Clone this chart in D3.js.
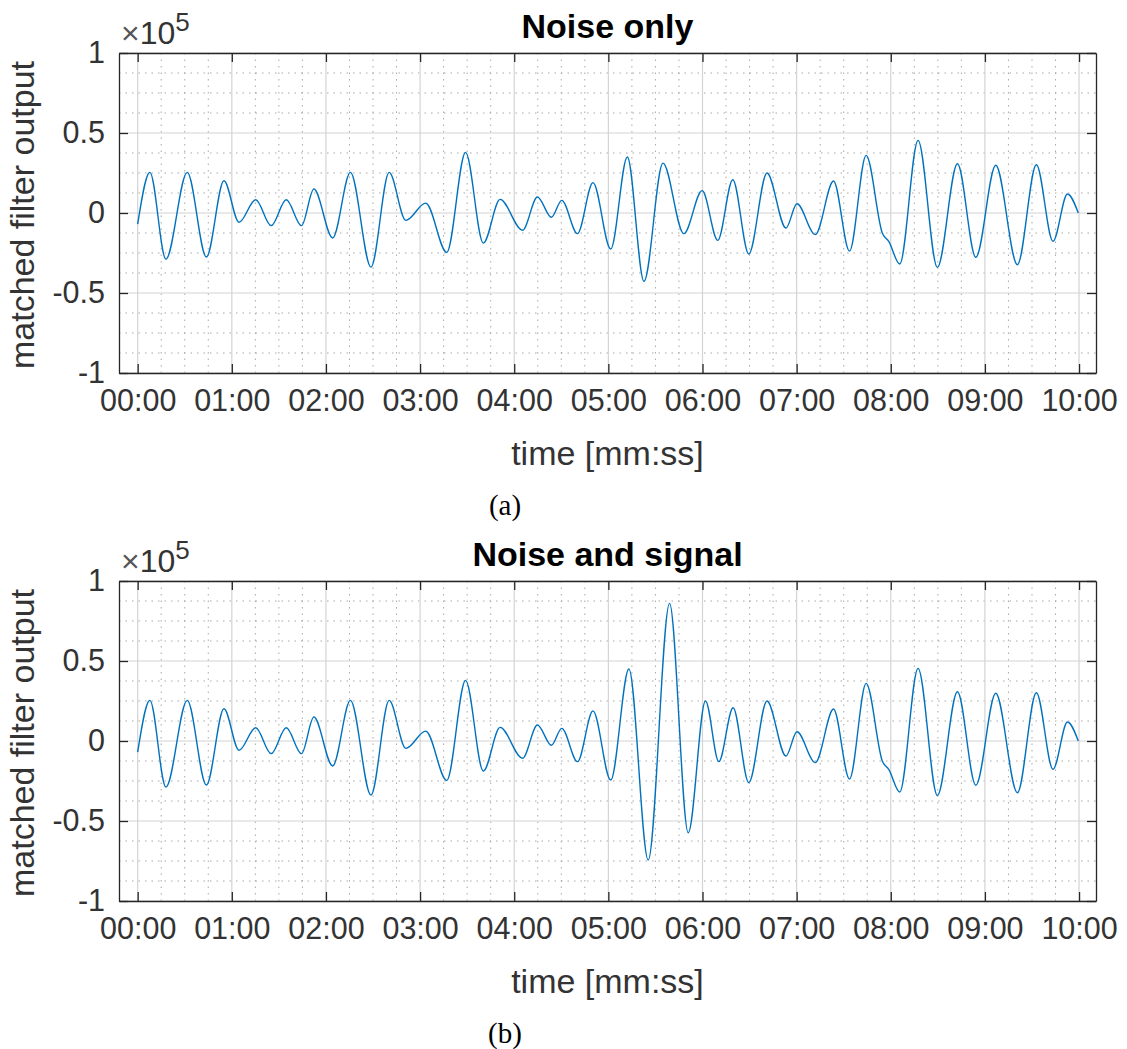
<!DOCTYPE html>
<html>
<head>
<meta charset="utf-8">
<script src="https://cdn.jsdelivr.net/npm/d3@7"></script>
<style>
  body { margin: 0; background: #fff; }
  .chart text { font-family: 'Liberation Sans', Arial, Helvetica, sans-serif; fill: #262626; }
  .caption { font-family: 'Liberation Serif', 'Times New Roman', serif !important; fill: #000 !important; }
</style>
</head>
<body>
<div class="chart"></div>
<script>
// extrema: time in seconds, value in units of 1e5
let noiseTime = [0, 7.8, 18.0, 31.6, 43.8, 55.0, 64.6, 75.2, 85.1, 94.7, 104.4, 112.3, 124.3, 135.6, 148.7,
  160.3, 170.9, 183.6, 197.0, 209.0, 220.3, 231.0, 245.3, 254.8, 263.7, 270.3, 280.3, 290.2, 301.5, 312.1,
  322.7, 334.8, 348.1, 359.8, 369.7, 379.3, 389.5, 401.1, 413.2, 420.2, 431.9, 443.5, 453.7, 464.3, 474.8,
  478.7, 485.7, 497.4, 509.7, 522.5, 534.2, 546.9, 560.7, 572.8, 583.4, 592.6, 599.5]
let noiseValue = [-0.07, 0.254, -0.288, 0.254, -0.275, 0.202, -0.058, 0.083, -0.079, 0.083, -0.079, 0.15, -0.156, 0.254, -0.338,
  0.254, -0.046, 0.062, -0.246, 0.379, -0.188, 0.085, -0.108, 0.10, -0.027, 0.079, -0.129, 0.19, -0.225, 0.35,
  -0.427, 0.312, -0.129, 0.14, -0.171, 0.208, -0.256, 0.25, -0.094, 0.058, -0.135, 0.20, -0.238, 0.36, -0.13,
  -0.177, -0.319, 0.454, -0.34, 0.308, -0.277, 0.298, -0.323, 0.302, -0.177, 0.119, 0.0]

let signalTime = [0, 7.8, 18.0, 31.6, 43.8, 55.0, 64.6, 75.2, 85.1, 94.7, 104.4, 112.3, 124.3, 135.6, 148.7,
  160.3, 170.9, 183.6, 197.0, 209.0, 220.3, 231.0, 245.3, 254.8, 263.7, 270.3, 280.3, 290.2, 301.5, 313.1,
  325.4, 339.0, 350.9, 361.9, 370.4, 379.5, 389.5, 401.1, 413.2, 420.2, 431.9, 443.5, 453.7, 464.3, 474.8,
  478.7, 485.7, 497.4, 509.7, 522.5, 534.2, 546.9, 560.7, 572.8, 583.4, 592.6, 599.5]
let signalValue = [-0.07, 0.254, -0.288, 0.254, -0.275, 0.202, -0.058, 0.083, -0.079, 0.083, -0.079, 0.15, -0.156, 0.254, -0.338,
  0.254, -0.046, 0.062, -0.246, 0.379, -0.188, 0.085, -0.108, 0.10, -0.027, 0.079, -0.129, 0.188, -0.244, 0.45,
  -0.744, 0.86, -0.573, 0.25, -0.129, 0.208, -0.26, 0.25, -0.094, 0.058, -0.135, 0.20, -0.238, 0.36, -0.13,
  -0.177, -0.319, 0.454, -0.34, 0.308, -0.277, 0.298, -0.323, 0.302, -0.177, 0.119, 0.0]

let xTicks = [0, 60, 120, 180, 240, 300, 360, 420, 480, 540, 600]
let xTickLabels = ['00:00', '01:00', '02:00', '03:00', '04:00', '05:00', '06:00', '07:00', '08:00', '09:00', '10:00']
let yTicks = [-1, -0.5, 0, 0.5, 1]
let yTickLabels = ['-1', '-0.5', '0', '0.5', '1']

const width = 1127
const height = 1049
const plot = { left: 119, right: 1096, top: 53, bottom: 373 }
const panelShift = 528
const tickLen = 9
const tickFont = 30.5

const svg = d3
  .select('.chart')
  .append('svg')
  .attr('width', width)
  .attr('height', height)

svg.append('rect').attr('width', width).attr('height', height).style('fill', '#fff')

let x = d3.scaleLinear().domain([-11.9, 610.8]).range([plot.left, plot.right])
let y = d3.scaleLinear().domain([-1, 1]).range([plot.bottom, plot.top])

function drawPanel(offset, title, times, values, caption) {
  let g = svg.append('g').attr('transform', `translate(0,${offset})`)

  // minor grid (dotted)
  let minorX = d3.range(15, 600, 15).filter((d) => d % 60 !== 0)
  let minorY = d3.range(-1, 1.001, 0.125).filter((d) => Math.abs(d * 2 - Math.round(d * 2)) > 1e-6)
  g.selectAll('.minor-x')
    .data(minorX)
    .enter()
    .append('line')
    .attr('x1', (d) => x(d))
    .attr('x2', (d) => x(d))
    .attr('y1', plot.top)
    .attr('y2', plot.bottom)
    .style('stroke', '#a8a8a8')
    .style('stroke-width', 1)
    .style('stroke-dasharray', '1.5,5')
  g.selectAll('.minor-y')
    .data(minorY)
    .enter()
    .append('line')
    .attr('x1', plot.left)
    .attr('x2', plot.right)
    .attr('y1', (d) => y(d))
    .attr('y2', (d) => y(d))
    .style('stroke', '#a8a8a8')
    .style('stroke-width', 1)
    .style('stroke-dasharray', '1.5,5')

  // major grid
  g.selectAll('.major-x')
    .data(xTicks)
    .enter()
    .append('line')
    .attr('x1', (d) => x(d))
    .attr('x2', (d) => x(d))
    .attr('y1', plot.top)
    .attr('y2', plot.bottom)
    .style('stroke', '#d4d4d4')
    .style('stroke-width', 1.2)
  g.selectAll('.major-y')
    .data(yTicks)
    .enter()
    .append('line')
    .attr('x1', plot.left)
    .attr('x2', plot.right)
    .attr('y1', (d) => y(d))
    .attr('y2', (d) => y(d))
    .style('stroke', '#d4d4d4')
    .style('stroke-width', 1.2)

  // the trace
  let line = d3
    .line()
    .x((d, i) => x(times[i]))
    .y((d) => y(d))
    .curve(d3.curveMonotoneX)
  g.append('path')
    .attr('d', line(values))
    .style('fill', 'none')
    .style('stroke', '#0072BD')
    .style('stroke-width', 1.4)

  // axes, ticks pointing inside
  let xFmt = (d) => xTickLabels[xTicks.indexOf(d)]
  let yFmt = (d) => yTickLabels[yTicks.indexOf(d)]

  let bottomAxis = g
    .append('g')
    .attr('transform', `translate(0,${plot.bottom})`)
    .call(d3.axisBottom(x).tickValues(xTicks).tickFormat(xFmt).tickSizeInner(-tickLen).tickSizeOuter(0).tickPadding(16))
  let topAxis = g
    .append('g')
    .attr('transform', `translate(0,${plot.top})`)
    .call(d3.axisTop(x).tickValues(xTicks).tickFormat('').tickSizeInner(-tickLen).tickSizeOuter(0))
  let leftAxis = g
    .append('g')
    .attr('transform', `translate(${plot.left},0)`)
    .call(d3.axisLeft(y).tickValues(yTicks).tickFormat(yFmt).tickSizeInner(-tickLen).tickSizeOuter(0).tickPadding(14))
  let rightAxis = g
    .append('g')
    .attr('transform', `translate(${plot.right},0)`)
    .call(d3.axisRight(y).tickValues(yTicks).tickFormat('').tickSizeInner(-tickLen).tickSizeOuter(0))

  ;[bottomAxis, topAxis, leftAxis, rightAxis].forEach((a) => {
    a.selectAll('path, line').style('stroke', '#262626').style('stroke-width', 1.3)
    a.selectAll('text').style('font-size', tickFont + 'px').style('fill', '#333')
  })
  bottomAxis.selectAll('text').attr('dy', '0.71em')

  // exponent label
  let expo = g
    .append('text')
    .attr('x', 121)
    .attr('y', 44)
    .style('font-size', '32px')
    .style('fill', '#333')
  expo.append('tspan').style('font-weight', '300').style('fill', '#555').text('×')
  expo.append('tspan').text('10')
  expo.append('tspan').attr('dy', -13).style('font-size', '26px').text('5')

  // title
  g.append('text')
    .attr('x', (plot.left + plot.right) / 2)
    .attr('y', 38)
    .attr('text-anchor', 'middle')
    .style('font-size', '34px')
    .style('font-weight', 'bold')
    .style('fill', '#000')
    .text(title)

  // axis labels
  g.append('text')
    .attr('x', (plot.left + plot.right) / 2)
    .attr('y', 465)
    .attr('text-anchor', 'middle')
    .style('font-size', '34px')
    .style('fill', '#333')
    .text('time [mm:ss]')

  g.append('text')
    .attr('transform', `translate(34,${(plot.top + plot.bottom) / 2 + 2}) rotate(-90)`)
    .attr('text-anchor', 'middle')
    .style('font-size', '34px')
    .style('fill', '#333')
    .text('matched filter output')

  g.append('text')
    .attr('class', 'caption')
    .attr('x', 505)
    .attr('y', 515)
    .attr('text-anchor', 'middle')
    .style('font-size', '29px')
    .text(caption)
}

drawPanel(0, 'Noise only', noiseTime, noiseValue, '(a)')
drawPanel(panelShift, 'Noise and signal', signalTime, signalValue, '(b)')
</script>
</body>
</html>
